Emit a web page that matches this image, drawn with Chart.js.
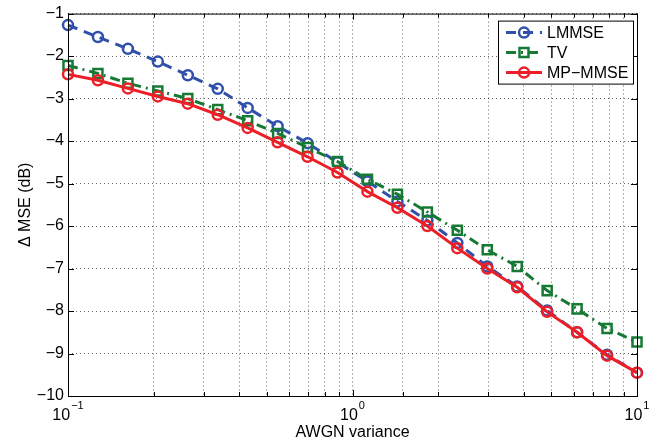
<!DOCTYPE html>
<html>
<head>
<meta charset="utf-8">
<script src="https://cdn.jsdelivr.net/npm/chart.js@4.4.1/dist/chart.umd.min.js"></script>
<style>
  html, body { margin: 0; padding: 0; background: #fff; }
  #wrap { width: 658px; height: 444px; position: relative; }
</style>
</head>
<body>
<div id="wrap"><canvas id="mse"></canvas></div>
<script>
// AWGN variance (log spaced, 20 points from 0.1 to 10)
var variances = [0.1, 0.1274, 0.1624, 0.2069, 0.2637, 0.3360, 0.4281, 0.5456, 0.6952, 0.8859,
                 1.1288, 1.4384, 1.8330, 2.3357, 2.9764, 3.7927, 4.8329, 6.1585, 7.8476, 10];
// delta MSE (dB)
var lmmse  = [-1.27, -1.55, -1.83, -2.13, -2.45, -2.77, -3.22, -3.65, -4.05, -4.50,
              -4.95, -5.42, -5.87, -6.40, -6.95, -7.42, -7.99, -8.50, -9.03, -9.45];
var tv     = [-2.22, -2.41, -2.64, -2.82, -3.00, -3.26, -3.52, -3.82, -4.15, -4.48,
              -4.90, -5.25, -5.67, -6.10, -6.56, -6.95, -7.52, -7.95, -8.41, -8.73];
var mpmmse = [-2.43, -2.57, -2.76, -2.95, -3.12, -3.38, -3.69, -4.03, -4.37, -4.74,
              -5.19, -5.57, -6.00, -6.52, -7.00, -7.44, -8.02, -8.50, -9.05, -9.45];
var seriesNames = ["LMMSE", "TV", "MP\u2212MMSE"];
var yTicks = [-10, -9, -8, -7, -6, -5, -4, -3, -2, -1];

var FONT = '"Liberation Sans", Arial, sans-serif';
var BLUE = 'rgb(48,80,170)', GREEN = 'rgb(22,122,52)', RED = 'rgb(236,30,38)';

function pts(vals) {
  return vals.map(function (v, i) { return { x: variances[i], y: v }; });
}

function isDecade(v) {
  var l = Math.log10(v);
  return Math.abs(l - Math.round(l)) < 1e-6;
}

// matlab style: box, inner ticks, 10^n labels, legend in the corner
var matlabLook = {
  id: 'matlabLook',
  afterDraw: function (chart) {
    var ctx = chart.ctx, a = chart.chartArea;
    var xs = chart.scales.x, ys = chart.scales.y;
    ctx.save();
    ctx.setLineDash([]);
    ctx.strokeStyle = '#000';
    ctx.lineWidth = 1;

    ctx.strokeRect(a.left + 0.5, a.top + 0.5, a.right - a.left, a.bottom - a.top);

    ctx.beginPath();
    xs.ticks.forEach(function (t) {
      var px = Math.round(xs.getPixelForValue(t.value)) + 0.5;
      var len = isDecade(t.value) ? 6 : 4;
      ctx.moveTo(px, a.bottom); ctx.lineTo(px, a.bottom - len);
      ctx.moveTo(px, a.top); ctx.lineTo(px, a.top + len);
    });
    ys.ticks.forEach(function (t) {
      var py = Math.round(ys.getPixelForValue(t.value)) + 0.5;
      ctx.moveTo(a.left, py); ctx.lineTo(a.left + 6, py);
      ctx.moveTo(a.right, py); ctx.lineTo(a.right - 6, py);
    });
    ctx.stroke();

    // x tick labels as 10 with a raised exponent
    ctx.fillStyle = '#000';
    ctx.textBaseline = 'alphabetic';
    ctx.textAlign = 'left';
    xs.ticks.forEach(function (t) {
      if (!isDecade(t.value)) return;
      var e = Math.round(Math.log10(t.value));
      var es = e < 0 ? '\u2212' + (-e) : String(e);
      var px = xs.getPixelForValue(t.value);
      ctx.font = '16px ' + FONT;
      var wb = ctx.measureText('10').width;
      ctx.font = '11px ' + FONT;
      var we = ctx.measureText(es).width;
      var x0 = px - (wb + we + 1) / 2;
      ctx.font = '16px ' + FONT;
      ctx.fillText('10', x0, a.bottom + 24);
      ctx.font = '11px ' + FONT;
      ctx.fillText(es, x0 + wb + 1, a.bottom + 13);
    });

    // legend
    var lx = a.right - 139, ly = a.top + 7, lw = 135, lh = 63;
    ctx.fillStyle = '#fff';
    ctx.fillRect(lx, ly, lw, lh);
    ctx.strokeRect(lx + 0.5, ly + 0.5, lw, lh);
    chart.data.datasets.forEach(function (ds, i) {
      var ry = ly + 12 + i * 20;
      ctx.strokeStyle = ds.borderColor;
      ctx.lineWidth = ds.borderWidth;
      ctx.setLineDash(ds.borderDash || []);
      ctx.beginPath();
      ctx.moveTo(lx + 8, ry); ctx.lineTo(lx + 44, ry);
      ctx.stroke();
      ctx.setLineDash([]);
      ctx.lineWidth = ds.pointBorderWidth;
      ctx.beginPath();
      if (ds.pointStyle === 'rect') {
        ctx.rect(lx + 26 - 4.5, ry - 4.5, 9, 9);
      } else {
        ctx.arc(lx + 26, ry, ds.pointRadius, 0, Math.PI * 2);
      }
      ctx.stroke();
      ctx.fillStyle = '#000';
      ctx.font = '16px ' + FONT;
      ctx.textBaseline = 'middle';
      ctx.fillText(ds.label, lx + 49, ry + 1);
    });
    ctx.restore();
  }
};

var chart = new Chart(document.getElementById('mse'), {
  type: 'line',
  data: {
    datasets: [{
      label: seriesNames[0],
      data: pts(lmmse),
      borderColor: BLUE,
      borderWidth: 3,
      borderDash: [10, 7],
      pointStyle: 'circle',
      pointRadius: 5,
      pointBorderWidth: 2.5,
      pointBorderColor: BLUE,
      pointBackgroundColor: 'rgba(0,0,0,0)',
      order: 3
    }, {
      label: seriesNames[1],
      data: pts(tv),
      borderColor: GREEN,
      borderWidth: 3,
      borderDash: [10, 5, 2, 5],
      pointStyle: 'rect',
      pointRadius: 6.4,
      pointBorderWidth: 2.5,
      pointBorderColor: GREEN,
      pointBackgroundColor: 'rgba(0,0,0,0)',
      order: 2
    }, {
      label: seriesNames[2],
      data: pts(mpmmse),
      borderColor: RED,
      borderWidth: 3,
      pointStyle: 'circle',
      pointRadius: 5,
      pointBorderWidth: 2.5,
      pointBorderColor: RED,
      pointBackgroundColor: 'rgba(0,0,0,0)',
      order: 1
    }]
  },
  options: {
    responsive: true,
    maintainAspectRatio: false,
    animation: false,
    events: [],
    layout: { padding: { top: 9, right: 21, left: 0, bottom: 0 } },
    elements: { line: { tension: 0 } },
    datasets: { line: { clip: false } },
    plugins: { legend: { display: false }, tooltip: { enabled: false } },
    scales: {
      x: {
        type: 'logarithmic',
        min: 0.1,
        max: 10,
        ticks: { display: false, autoSkip: false },
        grid: { color: 'rgba(0,0,0,0.6)', lineWidth: 1, drawTicks: false },
        border: { display: false, dash: [1, 3] },
        title: { display: true, text: 'AWGN variance', color: '#000',
                 font: { family: FONT, size: 16 }, padding: { top: 0, bottom: 2 } },
        afterFit: function (s) { s.height = 48; }
      },
      y: {
        min: -10,
        max: -1,
        afterBuildTicks: function (s) { s.ticks = yTicks.map(function (v) { return { value: v }; }); },
        ticks: {
          color: '#000',
          padding: 4,
          font: { family: FONT, size: 16 },
          callback: function (v) { return v < 0 ? '\u2212' + (-v) : String(v); }
        },
        grid: { color: 'rgba(0,0,0,0.6)', lineWidth: 1, drawTicks: false },
        border: { display: false, dash: [1, 3] },
        title: { display: true, text: '\u0394 MSE (dB)', color: '#000',
                 font: { family: FONT, size: 16 }, padding: { top: 16, bottom: 0 } },
        afterFit: function (s) { s.width = 68; }
      }
    }
  },
  plugins: [matlabLook]
});
</script>
</body>
</html>
